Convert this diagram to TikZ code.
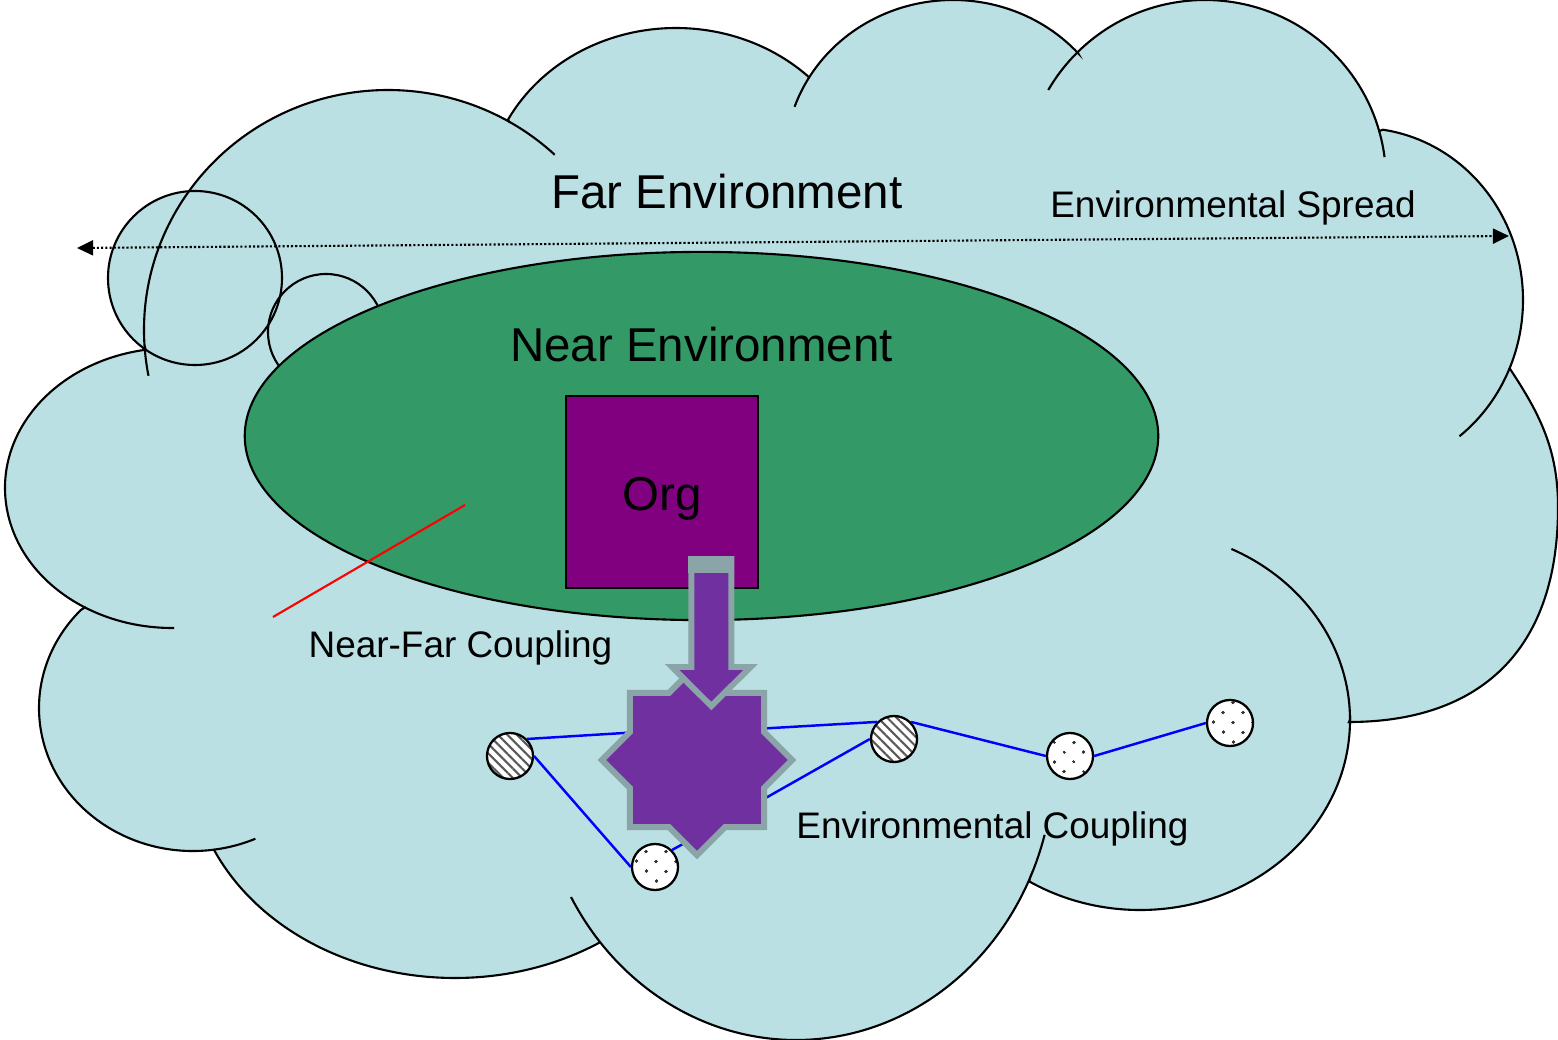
\documentclass[tikz,border=0pt]{standalone}
\usepackage{fontspec}
\setmainfont{Liberation Sans}
\usetikzlibrary{calc,arrows.meta,shapes.geometric,patterns.meta}

\definecolor{cloudblue}{RGB}{186,224,227}
\definecolor{nearGreen}{RGB}{51,153,102}
\definecolor{orgPurple}{RGB}{128,0,128}
\definecolor{burstPurple}{RGB}{112,48,160}
\definecolor{burstEdge}{RGB}{138,164,167}
\definecolor{linkBlue}{RGB}{0,0,255}

\tikzset{
  % one lobe of the cloud: centre, radii, start and end angle
  bump/.style n args={6}{insert path={-- ($(#1,#2)+(#5:#3 and #4)$)
      arc[start angle=#5,end angle=#6,x radius=#3,y radius=#4]}},
  arcpiece/.style n args={6}{insert path={($(#1,#2)+(#5:#3 and #4)$)
      arc[start angle=#5,end angle=#6,x radius=#3,y radius=#4]}},
  cloudline/.style={draw=black, line width=0.6pt},
  bigtext/.style={font=\fontsize{13.5}{16}\selectfont, anchor=base, inner sep=0pt},
  smalltext/.style={font=\fontsize{10.5}{12.5}\selectfont, anchor=base, inner sep=0pt},
  agent/.style={circle, draw=black, line width=0.65pt, minimum size=0.46cm, inner sep=0pt},
  hatched/.style={agent, preaction={fill=white},
      pattern={Lines[angle=-45,distance=1.9pt,line width=0.6pt]}, pattern color=black!65},
  speckled/.style={agent, preaction={fill=white},
      pattern={Dots[distance=4pt,radius=0.45pt,angle=45]}, pattern color=black!80},
  link/.style={draw=linkBlue, line width=0.7pt},
  burstbody/.style={fill=burstPurple, draw=burstEdge, line width=1.7pt},
  spreadtip/.tip={Triangle[length=4.6pt,width=4.3pt]}
}

\begin{document}
\begin{tikzpicture}[x=0.01cm, y=-0.01cm]
\useasboundingbox (0,0) rectangle (1558,1040);
\fill[white] (0,0) rectangle (1558,1040);

% ---------- the far environment: cloud with its two bubbles ----------
\fill[cloudblue] (195,278) circle[radius=87];
\fill[cloudblue] (326,332) circle[radius=58];
\path[fill=cloudblue, cloudline] (145,347)
  [bump={388}{330}{244}{240}{175.9}{299.7}]
  [bump={676}{200}{190}{172}{208.0}{314.8}]
  [bump={953}{160}{168}{160}{211.1}{318.0}]
  [bump={1205}{180}{181}{180}{225.2}{344.2}]
  [bump={1360}{300}{163}{172}{278.1}{383.4}]
  .. controls (1540,414) and (1558,450) .. (1558,507)
  .. controls (1558,660) and (1470,722) .. (1349,722)
  [bump={1140}{720}{210}{190}{0}{121.8}]
  [bump={796}{760}{258}{280}{25.0}{139.8}]
  [bump={455}{760}{264.5}{218}{56.8}{155.6}]
  [bump={193}{708}{154}{143}{82.2}{223.2}]
  [bump={172}{488}{167}{140}{121.5}{260.9}]
  -- cycle;
% inner folds of the cloud
\draw[cloudline]
  [arcpiece={388}{330}{244}{240}{299.7}{313.1}]
  [arcpiece={388}{330}{244}{240}{169.0}{175.9}]
  [arcpiece={953}{160}{168}{160}{199.4}{211.1}]
  [arcpiece={1205}{180}{181}{180}{210.0}{225.2}]
  [arcpiece={1205}{180}{181}{180}{344.2}{352.7}]
  [arcpiece={1360}{300}{163}{172}{383.4}{412.4}]
  [arcpiece={1140}{720}{210}{190}{-64.2}{0}]
  [arcpiece={796}{760}{258}{280}{15.5}{25.0}]
  [arcpiece={796}{760}{258}{280}{139.8}{150.7}]
  [arcpiece={193}{708}{154}{143}{66.1}{82.2}]
  [arcpiece={172}{488}{167}{140}{89.3}{121.5}];
\draw[cloudline] (195,278) circle[radius=87];
\draw[cloudline] (326,332) circle[radius=58];

% ---------- environmental spread ----------
\coordinate (spreadW) at (77,248);
\coordinate (spreadE) at (1509,236);
\draw[line width=0.6pt, dash pattern=on 0.6pt off 0.6pt, spreadtip-spreadtip] (spreadW) -- (spreadE);

% ---------- near environment and organisation ----------
\node[ellipse, fill=nearGreen, draw=black, line width=0.6pt, inner sep=0pt,
      minimum width=9.13cm, minimum height=3.68cm] (nearenv) at (701.5,436) {};
\coordinate (nfA) at (273,617);
\coordinate (nfB) at (465,505);
\draw[red, line width=0.6pt] (nfA) -- (nfB);
\node[rectangle, fill=orgPurple, draw=black, line width=0.6pt, inner sep=0pt,
      minimum width=1.92cm, minimum height=1.92cm] (org) at (662,492) {};

% ---------- environmental coupling network ----------
\node[hatched]  (agA) at (510,756) {};
\node[speckled] (agB) at (655,867) {};
\node[hatched]  (agC) at (894,739) {};
\node[speckled] (agD) at (1070,756) {};
\node[speckled] (agE) at (1230,723) {};
\coordinate (bW)  at (640,732);
\coordinate (bSW) at (692,839);
\coordinate (bNE) at (755,729);
\coordinate (bSE) at (755,804);
\draw[link] (agA.north east) -- (bW);
\draw[link] (agA.east) -- (agB.west);
\draw[link] (agB.north east) -- (bSW);
\draw[link] (bNE) -- (agC.north west);
\draw[link] (bSE) -- (agC.west);
\draw[link] (agC.north east) -- (agD.west);
\draw[link] (agD.east) -- (agE.west);

\node[star, star points=8, star point ratio=1.307, minimum size=1.9cm, inner sep=0pt,
      burstbody] (burst) at (697,760) {};

% block arrow from the organisation down to the burst
\path[burstbody] (691.3,559) -- (731.3,559) -- (731.3,667) -- (750.6,667)
  -- (711.3,706) -- (672,667) -- (691.3,667) -- cycle;
\fill[burstEdge] (688.3,556) rectangle (734.3,573);

% ---------- labels ----------
\node[bigtext] (farlabel) at (727,209) {Far Environment};
\node[bigtext] (nearlabel) at (701.5,361.7) {Near Environment};
\node[bigtext] (orglabel) at (662,510) {Org};
\node[smalltext] (spreadlabel) at (1233,218) {Environmental Spread};
\node[smalltext] (nflabel) at (460.5,657) {Near-Far Coupling};
\node[smalltext] (eclabel) at (992.5,838) {Environmental Coupling};
\end{tikzpicture}
\end{document}
